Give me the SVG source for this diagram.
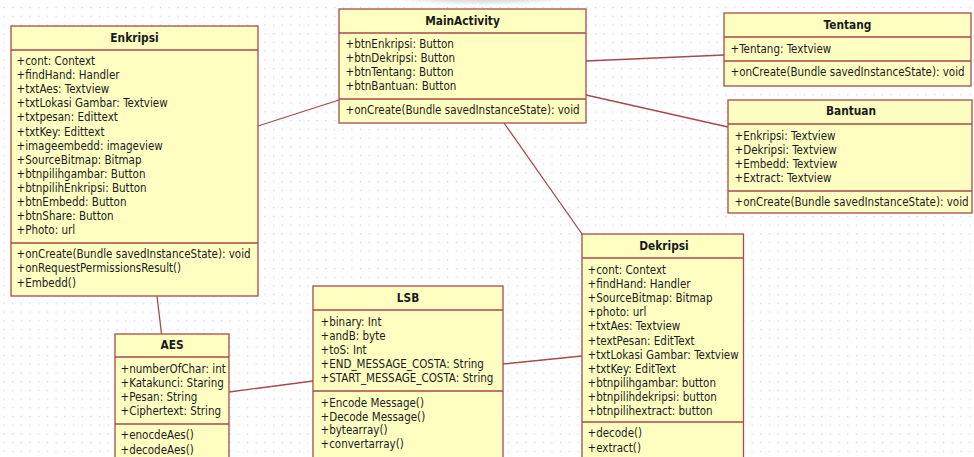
<svg xmlns="http://www.w3.org/2000/svg" width="974" height="457" viewBox="0 0 974 457">
  <defs>
    <pattern id="grid" x="3.3" y="7" width="8.7" height="8.7" patternUnits="userSpaceOnUse">
      <rect x="0" y="0" width="1.2" height="1.2" fill="#d4d4d4"/>
    </pattern>
    <filter id="soft" x="-20%" y="-200%" width="140%" height="500%">
      <feGaussianBlur stdDeviation="2"/>
    </filter>
    <style>
      .box { fill: #ffffc2; stroke: #a64a4c; stroke-width: 1.3; }
      .sep { stroke: #a64a4c; stroke-width: 1.3; }
      .edge { fill: none; stroke: #a64a4c; stroke-width: 1.3; }
      .title { font-family: "DejaVu Sans Condensed", "DejaVu Sans", sans-serif; font-stretch: condensed; font-size: 11.8px; font-weight: bold; fill: #1a1a1a; text-anchor: middle; }
      .member { font-family: "DejaVu Sans Condensed", "DejaVu Sans", sans-serif; font-stretch: condensed; font-size: 11.5px; fill: #1a1a1a; }
    </style>
  </defs>

  <!-- canvas with dotted grid -->
  <rect width="974" height="457" fill="#ffffff"/>
  <rect width="974" height="457" fill="url(#grid)"/>
  <path d="M 385 -4 Q 480 10 580 -4 Z" fill="#bdbdbd" opacity="0.6" filter="url(#soft)"/>

  <!-- associations -->
  <g id="connectors">
    <line class="edge" x1="258" y1="126" x2="339" y2="100"/>
    <line class="edge" x1="586" y1="61" x2="724" y2="55"/>
    <line class="edge" x1="586" y1="95" x2="728" y2="127"/>
    <line class="edge" x1="504" y1="123" x2="582" y2="234"/>
    <line class="edge" x1="157" y1="296" x2="161.5" y2="334"/>
    <line class="edge" x1="229" y1="392" x2="313" y2="381"/>
    <line class="edge" x1="503" y1="364" x2="582" y2="356"/>
  </g>

  <g id="Enkripsi">
    <rect class="box" x="11" y="26" width="247" height="270"/>
    <line class="sep" x1="11" y1="50" x2="258" y2="50"/>
    <line class="sep" x1="11" y1="243" x2="258" y2="243"/>
    <text class="title" x="134.5" y="42">Enkripsi</text>
    <text class="member" x="16.5" y="65">
      <tspan x="16.5" dy="0">+cont: Context</tspan>
      <tspan x="16.5" dy="14.1">+findHand: Handler</tspan>
      <tspan x="16.5" dy="14.1">+txtAes: Textview</tspan>
      <tspan x="16.5" dy="14.1">+txtLokasi Gambar: Textview</tspan>
      <tspan x="16.5" dy="14.1">+txtpesan: Edittext</tspan>
      <tspan x="16.5" dy="14.1">+txtKey: Edittext</tspan>
      <tspan x="16.5" dy="14.1">+imageembedd: imageview</tspan>
      <tspan x="16.5" dy="14.1">+SourceBitmap: Bitmap</tspan>
      <tspan x="16.5" dy="14.1">+btnpilihgambar: Button</tspan>
      <tspan x="16.5" dy="14.1">+btnpilihEnkripsi: Button</tspan>
      <tspan x="16.5" dy="14.1">+btnEmbedd: Button</tspan>
      <tspan x="16.5" dy="14.1">+btnShare: Button</tspan>
      <tspan x="16.5" dy="14.1">+Photo: url</tspan>
    </text>
    <text class="member" x="16.5" y="258.3">
      <tspan x="16.5" dy="0">+onCreate(Bundle savedInstanceState): void</tspan>
      <tspan x="16.5" dy="14.1">+onRequestPermissionsResult()</tspan>
      <tspan x="16.5" dy="14.1">+Embedd()</tspan>
    </text>
  </g>

  <g id="MainActivity">
    <rect class="box" x="339" y="9" width="247" height="114"/>
    <line class="sep" x1="339" y1="33" x2="586" y2="33"/>
    <line class="sep" x1="339" y1="99" x2="586" y2="99"/>
    <text class="title" x="462.5" y="24.7">MainActivity</text>
    <text class="member" x="345.5" y="47.7">
      <tspan x="345.5" dy="0">+btnEnkripsi: Button</tspan>
      <tspan x="345.5" dy="14.2">+btnDekripsi: Button</tspan>
      <tspan x="345.5" dy="14.2">+btnTentang: Button</tspan>
      <tspan x="345.5" dy="14.2">+btnBantuan: Button</tspan>
    </text>
    <text class="member" x="345.5" y="114">+onCreate(Bundle savedInstanceState): void</text>
  </g>

  <g id="Tentang">
    <rect class="box" x="724" y="13" width="247" height="73"/>
    <line class="sep" x1="724" y1="37" x2="971" y2="37"/>
    <line class="sep" x1="724" y1="61" x2="971" y2="61"/>
    <text class="title" x="847.5" y="29">Tentang</text>
    <text class="member" x="730.5" y="53.3">+Tentang: Textview</text>
    <text class="member" x="730.5" y="76.3">+onCreate(Bundle savedInstanceState): void</text>
  </g>

  <g id="Bantuan">
    <rect class="box" x="728" y="100" width="244" height="113"/>
    <line class="sep" x1="728" y1="124" x2="972" y2="124"/>
    <line class="sep" x1="728" y1="191" x2="972" y2="191"/>
    <text class="title" x="851" y="115">Bantuan</text>
    <text class="member" x="734.5" y="139.7">
      <tspan x="734.5" dy="0">+Enkripsi: Textview</tspan>
      <tspan x="734.5" dy="14">+Dekripsi: Textview</tspan>
      <tspan x="734.5" dy="14">+Embedd: Textview</tspan>
      <tspan x="734.5" dy="14">+Extract: Textview</tspan>
    </text>
    <text class="member" x="734.5" y="206.3">+onCreate(Bundle savedInstanceState): void</text>
  </g>

  <g id="Dekripsi">
    <rect class="box" x="582" y="234" width="161.5" height="240"/>
    <line class="sep" x1="582" y1="258" x2="743.5" y2="258"/>
    <line class="sep" x1="582" y1="422" x2="743.5" y2="422"/>
    <text class="title" x="664" y="250">Dekripsi</text>
    <text class="member" x="587.5" y="274">
      <tspan x="587.5" dy="0">+cont: Context</tspan>
      <tspan x="587.5" dy="14.1">+findHand: Handler</tspan>
      <tspan x="587.5" dy="14.1">+SourceBitmap: Bitmap</tspan>
      <tspan x="587.5" dy="14.1">+photo: url</tspan>
      <tspan x="587.5" dy="14.1">+txtAes: Textview</tspan>
      <tspan x="587.5" dy="14.1">+textPesan: EditText</tspan>
      <tspan x="587.5" dy="14.1">+txtLokasi Gambar: Textview</tspan>
      <tspan x="587.5" dy="14.1">+txtKey: EditText</tspan>
      <tspan x="587.5" dy="14.1">+btnpilihgambar: button</tspan>
      <tspan x="587.5" dy="14.1">+btnpilihdekripsi: button</tspan>
      <tspan x="587.5" dy="14.1">+btnpilihextract: button</tspan>
    </text>
    <text class="member" x="587.5" y="437.3">
      <tspan x="587.5" dy="0">+decode()</tspan>
      <tspan x="587.5" dy="15">+extract()</tspan>
    </text>
  </g>

  <g id="LSB">
    <rect class="box" x="313" y="286" width="190" height="200"/>
    <line class="sep" x1="313" y1="310" x2="503" y2="310"/>
    <line class="sep" x1="313" y1="391" x2="503" y2="391"/>
    <text class="title" x="408" y="302.3">LSB</text>
    <text class="member" x="320.5" y="326">
      <tspan x="320.5" dy="0">+binary: Int</tspan>
      <tspan x="320.5" dy="14">+andB: byte</tspan>
      <tspan x="320.5" dy="14">+toS: Int</tspan>
      <tspan x="320.5" dy="14">+END_MESSAGE_COSTA: String</tspan>
      <tspan x="320.5" dy="14">+START_MESSAGE_COSTA: String</tspan>
    </text>
    <text class="member" x="320.5" y="406.7">
      <tspan x="320.5" dy="0">+Encode Message()</tspan>
      <tspan x="320.5" dy="13.8">+Decode Message()</tspan>
      <tspan x="320.5" dy="13.8">+bytearray()</tspan>
      <tspan x="320.5" dy="13.8">+convertarray()</tspan>
    </text>
  </g>

  <g id="AES">
    <rect class="box" x="115" y="334" width="114" height="150"/>
    <line class="sep" x1="115" y1="357" x2="229" y2="357"/>
    <line class="sep" x1="115" y1="424" x2="229" y2="424"/>
    <text class="title" x="172" y="349">AES</text>
    <text class="member" x="120.5" y="373.3">
      <tspan x="120.5" dy="0">+numberOfChar: int</tspan>
      <tspan x="120.5" dy="14">+Katakunci: Staring</tspan>
      <tspan x="120.5" dy="14">+Pesan: String</tspan>
      <tspan x="120.5" dy="14">+Ciphertext: String</tspan>
    </text>
    <text class="member" x="120.5" y="439">
      <tspan x="120.5" dy="0">+enocdeAes()</tspan>
      <tspan x="120.5" dy="14.7">+decodeAes()</tspan>
    </text>
  </g>
</svg>
